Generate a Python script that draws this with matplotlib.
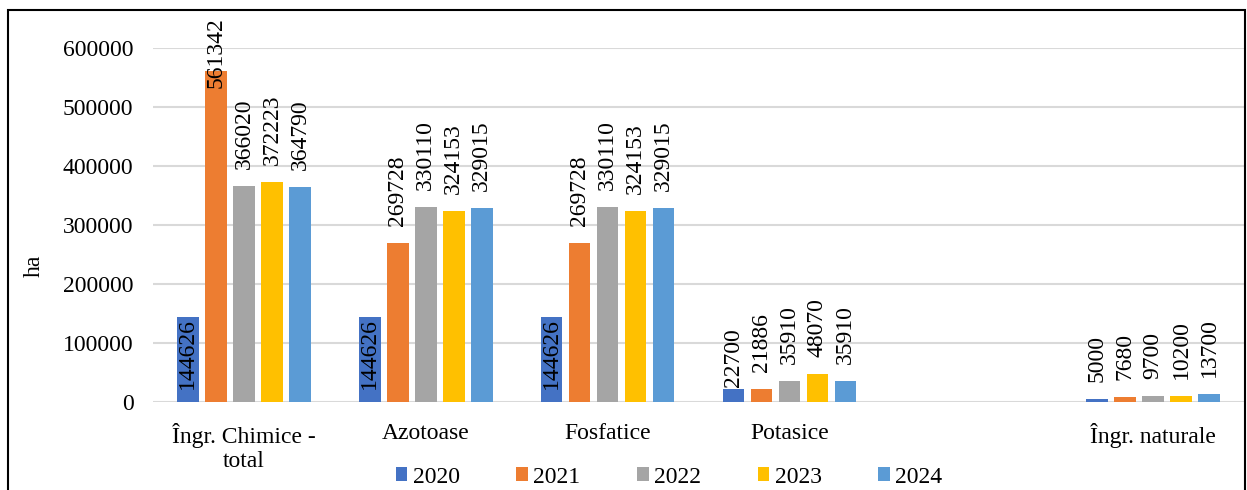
import numpy as np
import matplotlib
matplotlib.use("Agg")
import matplotlib.pyplot as plt
from matplotlib.patches import Patch, Rectangle

plt.rcParams['font.family'] = ['Liberation Serif', 'DejaVu Serif']

categories = ["Îngr. Chimice -\ntotal", "Azotoase", "Fosfatice", "Potasice", "", "Îngr. naturale"]
years = ["2020", "2021", "2022", "2023", "2024"]
v2020 = [144626, 144626, 144626, 22700, np.nan, 5000]
v2021 = [561342, 269728, 269728, 21886, np.nan, 7680]
v2022 = [366020, 330110, 330110, 35910, np.nan, 9700]
v2023 = [372223, 324153, 324153, 48070, np.nan, 10200]
v2024 = [364790, 329015, 329015, 35910, np.nan, 13700]
series = [v2020, v2021, v2022, v2023, v2024]
colors = ["#4472C4", "#ED7D31", "#A5A5A5", "#FFC000", "#5B9BD5"]
yticks = [0, 100000, 200000, 300000, 400000, 500000, 600000]

# label placement style: (series index, category index) -> (va, offset in points)
label_style = {(0, 0): ("top", -1), (0, 1): ("top", -1), (0, 2): ("top", -1),
               (1, 0): ("bottom", -12.5), (0, 3): ("bottom", 1.5)}

W, H = 1247, 490
fig = plt.figure(figsize=(W / 100, H / 100), dpi=100)
ax = fig.add_axes([153 / W, 1 - 402 / H, (1244 - 153) / W, (402 - 48) / H])

x = np.arange(len(categories))
step = 0.154
width = 0.12
FS = 17
for i, (vals, c) in enumerate(zip(series, colors)):
    pos = x + (i - 2) * step
    ax.bar(pos, vals, width=width, color=c, zorder=3, label=years[i])
    for j, v in enumerate(vals):
        if np.isnan(v):
            continue
        va, off = label_style.get((i, j), ("bottom", 12.3))
        ax.annotate(f"{int(v)}", xy=(pos[j], v), xytext=(0, off), textcoords="offset points",
                    rotation=90, ha="center", va=va, fontsize=FS, annotation_clip=False,
                    zorder=4)

ax.set_xlim(-0.5, len(categories) - 0.5)
ax.set_ylim(0, 600000)
ax.set_yticks(yticks)
ax.set_yticklabels([str(t) for t in yticks])
ax.set_xticks(x)
ax.set_xticklabels(categories, fontsize=FS, linespacing=1.2)
ax.tick_params(axis='y', length=0, pad=14, labelsize=FS)
ax.tick_params(axis='x', length=0, pad=15)
ax.grid(axis='y', color="#D9D9D9", linewidth=1.5, zorder=0)
for s in ax.spines.values():
    s.set_visible(False)

fig.text(34 / W, 1 - 266 / H, "ha", rotation=90, ha="center", va="center", fontsize=FS)

handles = [Patch(facecolor=c, label=y) for c, y in zip(colors, years)]
fig.legend(handles=handles, loc="center", bbox_to_anchor=(669 / W, 1 - 477 / H), ncol=5,
           frameon=False, fontsize=FS, handlelength=0.5, handleheight=0.5,
           handletextpad=0.22, columnspacing=2.4, borderpad=0, borderaxespad=0)

fig.patches.append(Rectangle((8 / W, -0.1), (1245 - 8) / W, 1.1 - 10 / H, transform=fig.transFigure,
                             fill=False, edgecolor="black", linewidth=1.5))

fig.savefig("out.png", dpi=100)
